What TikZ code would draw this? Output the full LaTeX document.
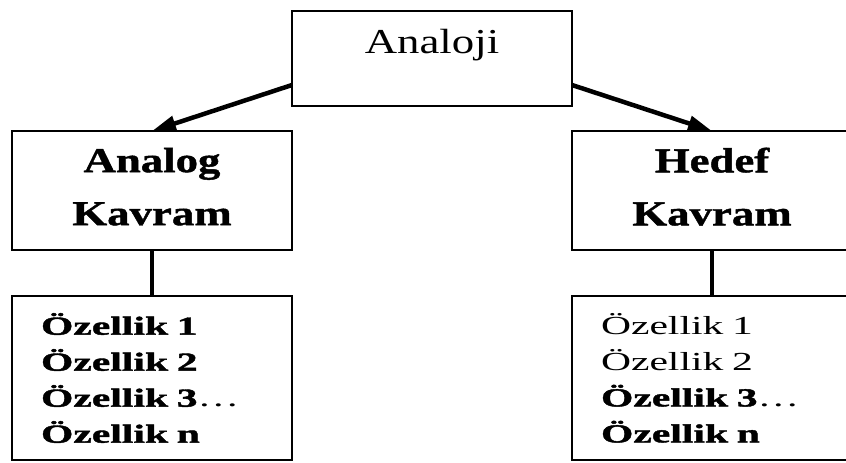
\documentclass[tikz,border=0pt]{standalone}
\usepackage{fontspec}
\setmainfont{Liberation Serif}
\newfontfamily\headfont[FakeStretch=1.28, BoldFeatures={FakeBold=1.2}]{Liberation Serif}
\newfontfamily\itemfont[FakeStretch=1.6, BoldFeatures={FakeBold=1.6}]{Liberation Serif}
\usetikzlibrary{positioning,arrows.meta}
\tikzstyle{topbox}=[rectangle, draw=black, line width=2.5pt, outer sep=0pt,
                    minimum width=280pt, inner sep=0pt, text height=42pt, text depth=53pt,
                    font=\headfont\fontsize{35}{42}\selectfont]
\tikzstyle{headbox}=[rectangle, draw=black, line width=2.5pt, outer sep=0pt,
                     minimum width=280pt, minimum height=119pt, align=center,
                     font=\headfont\bfseries\fontsize{35}{53}\selectfont]
\tikzstyle{itembox}=[rectangle, draw=black, line width=2.5pt, outer sep=0pt,
                     minimum height=164pt, inner xsep=29pt, inner ysep=0pt,
                     text width=222pt, align=left,
                     font=\itemfont\fontsize{26}{36}\selectfont]
\tikzstyle{parrow}=[-{Triangle[length=24pt,width=15pt]}, line width=4.5pt]
\tikzstyle{cline}=[-, line width=4.5pt]
\newcommand{\kstrut}{\rule[-8pt]{0pt}{8pt}}

\begin{document}
\begin{tikzpicture}[x=1pt,y=-1pt]
\useasboundingbox (0,0) rectangle (846,463);
\clip (0,0) rectangle (846,463);

\node (ANLJ) [topbox, anchor=north] at (432,11) {Analoji};

\node (ANLG) [headbox, below left=25pt and 0pt of ANLJ.south west] {Analog\\Kavram\kstrut};
\node (HDF) [headbox, below right=25pt and 0pt of ANLJ.south east] {Hedef\\Kavram\kstrut};

\node (OZL) [itembox, below=46pt of ANLG] {\textbf{Özellik 1}\\\textbf{Özellik 2}\\
  \textbf{Özellik 3}\ldots\\\textbf{Özellik n}};
\node (OZR) [itembox, below=46pt of HDF] {Özellik 1\\Özellik 2\\
  \textbf{Özellik 3}\ldots\\\textbf{Özellik n}};

 \draw[parrow] ([yshift=21pt]ANLJ.south west) -- (ANLG.north);
 \draw[parrow] ([yshift=21pt]ANLJ.south east) -- (HDF.north);
 \draw[cline] (ANLG.south) -- (OZL.north);
 \draw[cline] (HDF.south) -- (OZR.north);

\end{tikzpicture}
\end{document}
